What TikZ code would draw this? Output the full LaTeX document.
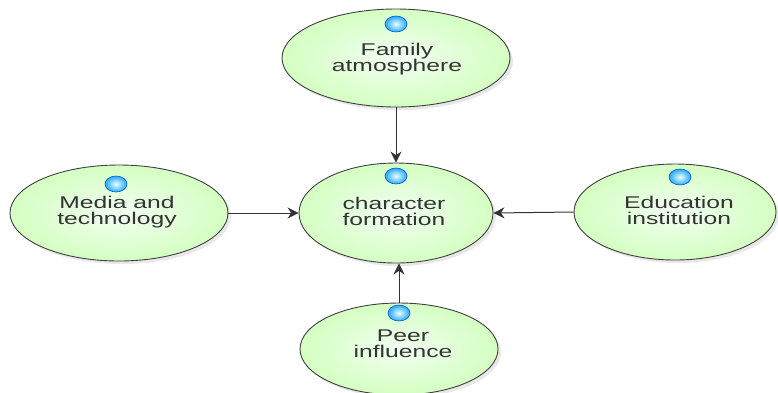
\documentclass[tikz,border=0pt]{standalone}
\usepackage{fontspec}
\setmainfont{Liberation Sans}
\usetikzlibrary{arrows.meta,shadows,shapes.geometric}
\begin{document}
\begin{tikzpicture}[x=1pt,y=-1pt,
  bubble/.style={ellipse,draw=black!75,line width=0.9pt,inner sep=0pt,
    shading=radial,inner color=green!5,outer color=green!60!lime!24,
    drop shadow={opacity=0.18,shadow xshift=3pt,shadow yshift=-3pt}},
  bulb/.style={ellipse,minimum width=22pt,minimum height=16pt,inner sep=0pt,
    draw=blue!55!cyan!80!black,line width=0.6pt,shading=radial,
    inner color=cyan!8,outer color=cyan!60!blue!85},
  lbl/.style={align=center,text=black!80,xscale=1.45,
    font=\fontsize{17}{16}\selectfont},
  conn/.style={draw=black!80,line width=1pt,-{Stealth[length=11pt,width=11pt]}}]
\useasboundingbox (0,0) rectangle (778,392);
\node[bubble,minimum width=228pt,minimum height=98pt] (fam) at (396,58) {};
\node[bubble,minimum width=194pt,minimum height=100pt] (chr) at (396,213) {};
\node[bubble,minimum width=218pt,minimum height=96pt] (med) at (119,213) {};
\node[bubble,minimum width=202pt,minimum height=96pt] (edu) at (675,212) {};
\node[bubble,minimum width=198pt,minimum height=92pt] (peer) at (399,349) {};
\node[bulb] (b1) at (396,24) {};
\node[bulb] (b2) at (396,176) {};
\node[bulb] (b3) at (116,184) {};
\node[bulb] (b4) at (680,177) {};
\node[bulb] (b5) at (399,313) {};
\node[lbl] (t1) at (397,59) {Family\\atmosphere};
\node[lbl] (t2) at (394,211) {character\\formation};
\node[lbl] (t3) at (117,212) {Media and\\technology};
\node[lbl] (t4) at (679,210) {Education\\institution};
\node[lbl] (t5) at (403,344) {Peer\\influence};
\draw[conn] (fam.south -| chr.north) -- (chr.north);
\draw[conn] (med.east) -- (chr.west);
\draw[conn] (edu.west) -- (chr.east);
\draw[conn] (peer.north) -- (chr.south -| peer.north);
\end{tikzpicture}
\end{document}
